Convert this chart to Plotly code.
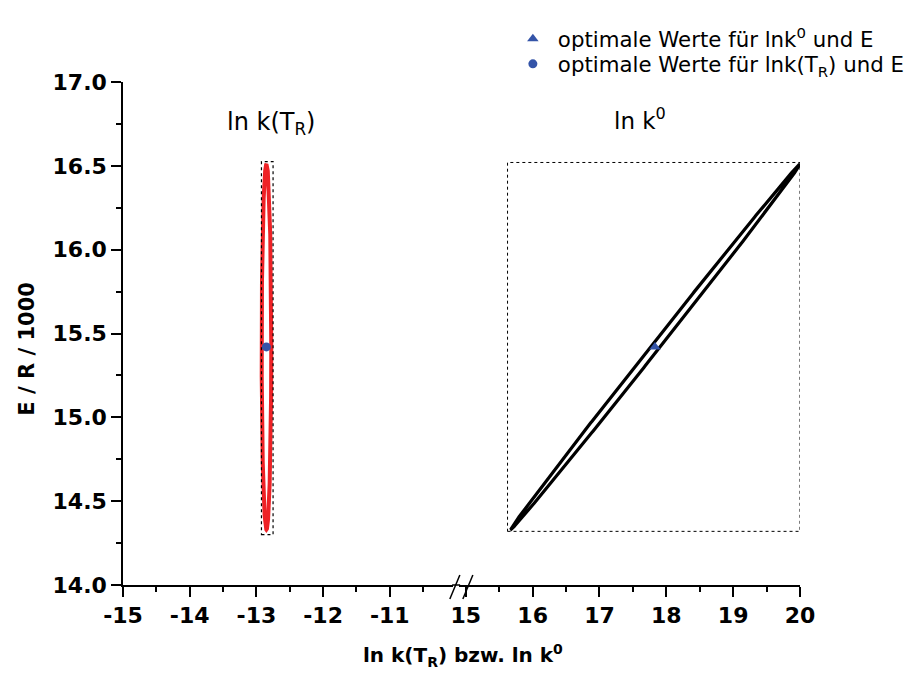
import numpy as np
import plotly.graph_objects as go

# ---------------- data ----------------
# optimum values
opt_lnkTR = [-12.85]
opt_lnk0 = [17.83]
opt_E = [15.42]

# confidence ellipse parameters (center, half ranges, phase between x and y)
ell_TR_center = (-12.849, 15.42)
ell_TR_half = (0.072, 1.09)
ell_TR_phase = np.pi / 2

ell_k0_center = (17.835, 15.42)
ell_k0_half = (2.165, 1.09)
ell_k0_phase = 0.034

# enclosing boxes (x0, x1, y0, y1)
box_TR = (-12.924, -12.75, 14.30, 16.525)
box_k0 = (15.624, 20.0, 14.32, 16.52)

left_ticks = [-15, -14, -13, -12, -11]
right_ticks = [15, 16, 17, 18, 19, 20]
y_ticks = [14.0, 14.5, 15.0, 15.5, 16.0, 16.5, 17.0]

t = np.linspace(0, 2 * np.pi, 721)


def ellipse(center, half, phase):
    x = center[0] + half[0] * np.cos(t)
    y = center[1] + half[1] * np.cos(t - phase)
    return x, y


# ---------------- layout geometry (px) ----------------
W, H = 909, 689
L, R, T, B = 123.3, 800.0, 82.0, 585.0
left_end_px = 453.3
right_start_px = 459.3


def px2x(px):
    return (px - L) / (R - L)


def py2y(py):
    return (B - py) / (B - T)


FONT = "DejaVu Sans, Verdana, sans-serif"
BLUE = "rgb(52,84,168)"
RED = "rgb(238,34,38)"

fig = go.Figure()

xl, yl = ellipse(ell_TR_center, ell_TR_half, ell_TR_phase)
fig.add_trace(go.Scatter(x=xl, y=yl, mode="lines", line=dict(color=RED, width=4),
                         xaxis="x", yaxis="y", showlegend=False, hoverinfo="skip"))
xr, yr = ellipse(ell_k0_center, ell_k0_half, ell_k0_phase)
fig.add_trace(go.Scatter(x=xr, y=yr, mode="lines", line=dict(color="black", width=3.2),
                         xaxis="x2", yaxis="y", showlegend=False, hoverinfo="skip"))

fig.add_trace(go.Scatter(x=opt_lnk0, y=opt_E, mode="markers",
                         marker=dict(symbol="triangle-up", size=10, color=BLUE),
                         name="optimale Werte für lnk<sup>0</sup> und E",
                         xaxis="x2", yaxis="y", legend="legend"))
fig.add_trace(go.Scatter(x=opt_lnkTR, y=opt_E, mode="markers",
                         marker=dict(symbol="circle", size=9, color=BLUE),
                         name="optimale Werte für lnk(T<sub>R</sub>) und E",
                         xaxis="x", yaxis="y", legend="legend2"))

shapes = []
# dotted boxes
shapes.append(dict(type="rect", xref="x", yref="y", x0=box_TR[0], x1=box_TR[1],
                   y0=box_TR[2], y1=box_TR[3], line=dict(color="black", width=1.2, dash="dot")))
shapes.append(dict(type="rect", xref="x2", yref="y", x0=box_k0[0], x1=box_k0[1],
                   y0=box_k0[2], y1=box_k0[3], line=dict(color="black", width=1, dash="dot")))
# connect axis line across the gap
shapes.append(dict(type="line", xref="paper", yref="paper",
                   x0=px2x(left_end_px - 1), x1=px2x(right_start_px + 1), y0=0, y1=0,
                   line=dict(color="black", width=1.5)))
# break marks
for cx in (455.0, 468.0):
    shapes.append(dict(type="line", xref="paper", yref="paper",
                       x0=px2x(cx - 5), x1=px2x(cx + 5), y0=py2y(599), y1=py2y(575),
                       line=dict(color="black", width=1.5)))

TICKFONT = dict(family=FONT, size=22, color="black", weight="bold")
axis_common = dict(showline=True, linecolor="black", linewidth=1.5, ticks="outside",
                   ticklen=10, tickwidth=1.5, tickcolor="black", showgrid=False,
                   zeroline=False, tickfont=TICKFONT)
MINOR = dict(tick0=0, ticks="outside", ticklen=5, tickwidth=1.5, tickcolor="black")

LEGFONT = dict(family=FONT, size=21.3, color="black")
legend_common = dict(xanchor="left", yanchor="middle", font=LEGFONT,
                     bgcolor="rgba(0,0,0,0)", itemwidth=40)

fig.update_layout(
    width=W, height=H,
    margin=dict(l=L, r=W - R, t=T, b=H - B, pad=0, autoexpand=False),
    paper_bgcolor="white", plot_bgcolor="white",
    xaxis=dict(domain=[0, px2x(left_end_px)], range=[-15, -10.05], tickvals=left_ticks,
               ticktext=[str(v) for v in left_ticks], anchor="y",
               minor=dict(dtick=0.5, **MINOR), **axis_common),
    xaxis2=dict(domain=[px2x(right_start_px), 1], range=[14.9, 20.0], tickvals=right_ticks,
                ticktext=[str(v) for v in right_ticks], anchor="y",
                minor=dict(dtick=0.5, **MINOR), **axis_common),
    yaxis=dict(domain=[0, 1], range=[14.0, 17.0], tickvals=y_ticks,
               ticktext=[f"{v:.1f}" for v in y_ticks], anchor="x",
               minor=dict(dtick=0.25, **MINOR), **axis_common),
    showlegend=True,
    legend=dict(x=px2x(508), y=py2y(39), **legend_common),
    legend2=dict(x=px2x(508), y=py2y(64), **legend_common),
    shapes=shapes,
    annotations=[
        dict(text="ln k(T<sub>R</sub>)", x=-12.78, y=16.75, xref="x", yref="y", showarrow=False,
             xanchor="center", yanchor="middle",
             font=dict(family=FONT, size=24, color="black")),
        dict(text="ln k<sup>0</sup>", x=17.6, y=16.78, xref="x2", yref="y", showarrow=False,
             xanchor="center", yanchor="middle",
             font=dict(family=FONT, size=23, color="black")),
        dict(text="ln k(T<sub>R</sub>) bzw. ln k<sup>0</sup>", x=px2x(463), y=py2y(655),
             xref="paper", yref="paper", showarrow=False, xanchor="center", yanchor="middle",
             font=dict(family=FONT, size=20, color="black", weight="bold")),
        dict(text="E / R / 1000", x=px2x(27), y=py2y(349), xref="paper", yref="paper",
             showarrow=False, textangle=-90, xanchor="center", yanchor="middle",
             font=dict(family=FONT, size=21, color="black", weight="bold")),
    ],
)

fig.write_html("out.html")
